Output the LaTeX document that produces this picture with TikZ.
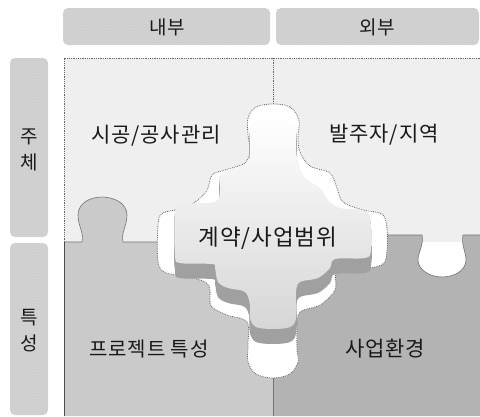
\documentclass[tikz,border=0pt]{standalone}
\usepackage{fontspec}
\usetikzlibrary{patterns}
\newfontfamily\kr[LetterSpace=4]{Noto Sans CJK KR}

\definecolor{lightq}{HTML}{EFEFEF}
\definecolor{midq}{HTML}{CACACA}
\definecolor{darkq}{HTML}{B3B3B3}
\definecolor{tabgray}{HTML}{CFCFCF}
\definecolor{sidegray}{HTML}{A0A0A0}
\definecolor{facemid}{HTML}{AEAEAE}
\definecolor{facelow}{HTML}{D6D6D6}

% outline of the cut-out that the centre piece leaves behind
\newcommand\holeshape{plot[smooth cycle, tension=0.55] coordinates {
  (273,104) (290,107) (299,120) (298,138) (300,152)
  (310,166) (330,173) (337,188) (343,202) (363,210) (382,214) (387,228)
  (387,250) (384,263) (370,268) (338,270)
  (335,290) (320,305) (300,312) (297,328)
  (297,350) (298,362) (290,374) (273,378)
  (256,374) (248,362) (248,345) (247,322)
  (227,315) (211,306) (210,290) (205,282) (182,275) (166,273)
  (158,262) (158,225) (163,213) (187,207)
  (206,192) (212,175) (225,170) (245,163) (250,150)
  (248,135) (248,118) (256,107)}}

% top face of the lifted centre piece
\newcommand\pieceshape{plot[smooth cycle, tension=0.55] coordinates {
  (273,116) (288,119) (296,130) (296,148)
  (298,163) (305,178) (320,188) (328,200) (340,208) (362,210) (370,218)
  (371,250) (365,258) (335,259)
  (330,268) (318,278) (300,282) (296,292)
  (296,318) (290,327) (273,329) (256,327) (250,318) (250,305)
  (245,292) (228,288) (218,282) (215,268)
  (212,264) (180,263) (175,255) (175,212) (182,204)
  (215,202) (220,190) (220,175) (235,168) (248,162) (250,148)
  (250,130) (258,119)}}

\begin{document}
\begin{tikzpicture}[x=1pt, y=-1pt,
  tab/.style={fill=tabgray, rounded corners=5pt,
    postaction={pattern=dots, pattern color=black!12}},
  hdr/.style={font=\kr\fontsize{19}{26}\selectfont, text=black!90, align=center},
  lbl/.style={font=\kr\fontsize{21}{24}\selectfont, text=black!90},
  edge/.style={draw=black!55, line width=0.6pt},
  dotedge/.style={draw=black!60, line width=0.8pt, densely dotted},
]
\useasboundingbox (0,0) rectangle (480,416);

% header tabs
\path[tab] (63,8) rectangle (270,45);
\path[tab] (276,8) rectangle (479,45);
\path[tab] (10,58) rectangle (48,237);
\path[tab] (10,243) rectangle (48,415);

% upper pieces (one light field)
\fill[lightq] (64,58) rectangle (480,242);

% lower-left piece with its knob
\path[fill=midq] (64,242) -- (82,242)
  .. controls (84,232) and (78,226) .. (78,215)
  .. controls (78,204) and (89,197) .. (102,197)
  .. controls (115,197) and (127,204) .. (127,215)
  .. controls (127,226) and (121,232) .. (123,242)
  -- (273,242) -- (273,416) -- (64,416) -- cycle;
\draw[edge] (64,242) -- (82,242)
  .. controls (84,232) and (78,226) .. (78,215)
  .. controls (78,204) and (89,197) .. (102,197)
  .. controls (115,197) and (127,204) .. (127,215)
  .. controls (127,226) and (121,232) .. (123,242)
  -- (200,242);

% lower-right piece with its notch
\path[fill=darkq] (273,235) -- (422,235)
  .. controls (424,245) and (418,252) .. (418,260)
  .. controls (418,270) and (430,277) .. (442,277)
  .. controls (455,277) and (466,270) .. (466,260)
  .. controls (466,252) and (461,245) .. (463,235)
  -- (480,235) -- (480,416) -- (273,416) -- cycle;
\draw[edge] (360,235) -- (422,235)
  .. controls (424,245) and (418,252) .. (418,260)
  .. controls (418,270) and (430,277) .. (442,277)
  .. controls (455,277) and (466,270) .. (466,260)
  .. controls (466,252) and (461,245) .. (463,235)
  -- (480,235);

% outer borders and seams
\draw[dotedge] (64,242) -- (64,58) -- (480,58);
\draw[edge, black!70] (64,242) -- (64,416);
\draw[dotedge] (273,58) -- (273,110);
\draw[edge] (273,370) -- (273,416);

% the cut-out
\fill[white] \holeshape;
\draw[dotedge] \holeshape;

% side walls of the lifted piece
\foreach \d in {1,...,15} {
  \fill[sidegray, shift={(0,\d)}] \pieceshape;
}
% top face
\shade[top color=white, middle color=facemid, bottom color=facelow] \pieceshape;

% labels
\node[hdr] (inner) at (167,27) {내부};
\node[hdr] (outer) at (377,27) {외부};
\node[hdr] (subject) at (29,150) {주\\체};
\node[hdr] (trait) at (29,331) {특\\성};

\node[lbl] (build) at (156,136) {시공/공사관리};
\node[lbl] (owner) at (384,135) {발주자/지역};
\node[lbl, font=\kr\fontsize{22.5}{26}\selectfont] (contract) at (268,238) {계약/사업범위};
\node[lbl, font=\kr\fontsize{20}{24}\selectfont] (project) at (149,349) {프로젝트 특성};
\node[lbl] (env) at (385,349) {사업환경};
\end{tikzpicture}
\end{document}
